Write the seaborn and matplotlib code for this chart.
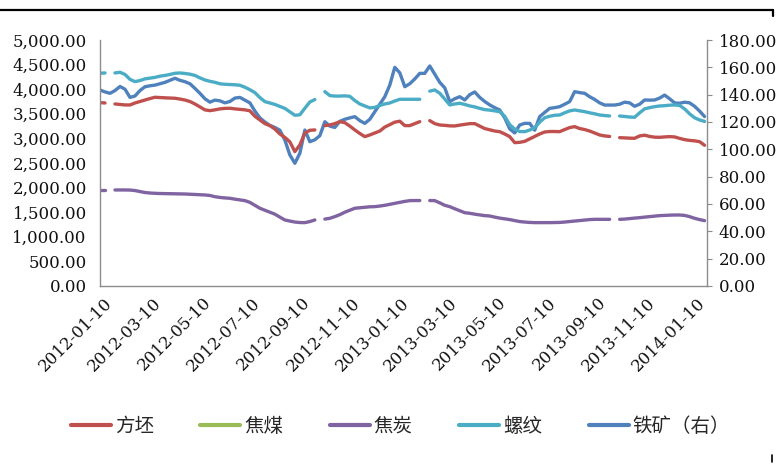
import numpy as np
import pandas as pd
import matplotlib
matplotlib.use("Agg")
import matplotlib.pyplot as plt
from matplotlib.lines import Line2D
from matplotlib.ticker import FuncFormatter, FixedLocator
import seaborn as sns

N = np.nan

# sampling dates (roughly weekly observations)
dates = pd.date_range("2012-01-05", "2014-01-20", periods=122)

# 方坯 (left axis)
billet = [3727, 3720, N, 3700, 3690, 3680, 3680, 3720, 3750, 3780,
          3810, 3836, 3830, 3825, 3820, 3816, 3800, 3780, 3750, 3700,
          3640, 3580, 3564, 3580, 3600, 3610, 3613, 3600, 3590, 3580,
          3560, 3450, 3375, 3300, 3260, 3190, 3090, 3020, 2930, 2731,
          2867, 3110, 3165, 3172, N, 3260, 3273, 3300, 3340, 3320,
          3250, 3172, 3100, 3036, 3070, 3110, 3150, 3230, 3280, 3330,
          3350, 3260, 3260, 3300, 3340, N, 3361, 3300, 3273, 3265,
          3255, 3253, 3270, 3285, 3300, 3300, 3250, 3200, 3175, 3150,
          3137, 3090, 3036, 2914, 2920, 2940, 2990, 3040, 3090, 3130,
          3140, 3140, 3137, 3180, 3220, 3239, 3200, 3180, 3150, 3110,
          3070, 3050, 3040, N, 3015, 3010, 3005, 3002, 3050, 3065,
          3040, 3025, 3022, 3030, 3036, 3030, 3000, 2975, 2960, 2950,
          2934, 2860]

# 焦煤 (left axis) - no visible data in the chart
coking_coal = []

# 焦炭 (left axis)
coke = [1952, 1952, N, 1952, 1952, 1952, 1950, 1940, 1920, 1900,
        1890, 1884, 1880, 1878, 1876, 1874, 1872, 1870, 1865, 1860,
        1855, 1850, 1840, 1815, 1800, 1790, 1783, 1765, 1750, 1735,
        1700, 1640, 1580, 1540, 1500, 1460, 1400, 1342, 1320, 1300,
        1290, 1288, 1310, 1342, N, 1360, 1376, 1410, 1450, 1500,
        1540, 1580, 1590, 1600, 1610, 1613, 1625, 1640, 1660, 1680,
        1700, 1720, 1735, 1737, 1737, N, 1737, 1735, 1690, 1640,
        1613, 1570, 1530, 1490, 1478, 1460, 1445, 1430, 1423, 1400,
        1380, 1365, 1350, 1330, 1310, 1300, 1292, 1288, 1288, 1288,
        1288, 1290, 1292, 1300, 1310, 1320, 1330, 1340, 1350, 1355,
        1355, 1355, 1355, N, 1355, 1360, 1370, 1380, 1389, 1400,
        1410, 1420, 1430, 1435, 1440, 1443, 1443, 1435, 1410, 1376,
        1350, 1328]

# 螺纹 (left axis)
rebar = [4324, 4330, N, 4330, 4344, 4300, 4200, 4154, 4175, 4210,
         4225, 4240, 4265, 4280, 4300, 4324, 4330, 4320, 4305, 4280,
         4230, 4188, 4160, 4140, 4110, 4100, 4095, 4090, 4080, 4040,
         3990, 3930, 3830, 3747, 3720, 3690, 3650, 3610, 3540, 3470,
         3480, 3613, 3740, 3790, N, 3951, 3870, 3860, 3860, 3865,
         3855, 3770, 3700, 3660, 3620, 3630, 3670, 3700, 3720, 3760,
         3795, 3795, 3795, 3795, 3795, N, 3960, 3985, 3917, 3800,
         3680, 3700, 3714, 3690, 3660, 3640, 3610, 3585, 3575, 3560,
         3544, 3450, 3280, 3190, 3140, 3137, 3170, 3220, 3330, 3420,
         3450, 3470, 3476, 3520, 3560, 3578, 3560, 3544, 3520, 3500,
         3476, 3465, 3456, N, 3456, 3445, 3435, 3429, 3520, 3600,
         3625, 3645, 3659, 3665, 3675, 3680, 3670, 3600, 3500, 3420,
         3375, 3345]

# 铁矿 (right axis)
iron_ore = [143.4, 142, 141, 143, 146, 144, 138, 139, 143, 145.8,
            146.5, 147, 148, 149, 150.5, 152, 150.5, 149.5, 148, 144.6,
            141, 137, 134.5, 136, 135.5, 134, 135, 137.5, 138, 136,
            134, 128, 123, 120, 117.5, 116, 114, 106.8, 95.9, 89.8,
            97.1, 114.1, 105.6, 107, 110, 120.2, 117, 116, 120.5, 122,
            123, 123.9, 121, 119, 122, 127.5, 133, 138.5, 147, 160,
            156, 145.8, 148, 151.5, 155.6, 155.6, 161, 155, 149, 145,
            134.9, 137, 138.5, 136.1, 140, 142, 138, 135, 132.5, 130.5,
            128.8, 123, 115, 112, 117.8, 119, 119, 114, 123.9, 127,
            130, 130.5, 131.2, 133, 134.9, 142.2, 141.5, 141, 138.5, 136.5,
            134, 132.4, 132.4, 132.4, 133, 134.5, 134, 131.5, 133, 136.1,
            136, 136.1, 137.5, 139.7, 137, 134, 133.7, 134.5, 134, 131.5,
            128, 124]

series_names = ["方坯", "焦煤", "焦炭", "螺纹", "铁矿（右）"]
series_colors = ["#C0504D", "#9BBB59", "#8064A2", "#4BACC6", "#4F81BD"]

tick_labels = ["2012-01-10", "2012-03-10", "2012-05-10", "2012-07-10",
               "2012-09-10", "2012-11-10", "2013-01-10", "2013-03-10",
               "2013-05-10", "2013-07-10", "2013-09-10", "2013-11-10",
               "2014-01-10"]

left_ticks = [0, 500, 1000, 1500, 2000, 2500, 3000, 3500, 4000, 4500, 5000]
right_ticks = [0, 20, 40, 60, 80, 100, 120, 140, 160, 180]

sns.set_theme(style="white")
plt.rcParams["font.family"] = ["DejaVu Serif"]

W, H = 782, 466
fig = plt.figure(figsize=(W / 100, H / 100), dpi=100)
ax = fig.add_axes([100 / W, 1 - 286 / H, 607 / W, 246 / H])
ax2 = ax.twinx()

LW = 2.4


def draw(axis, values, color):
    s = pd.Series(values, dtype=float)
    df = pd.DataFrame({"date": dates, "value": s.values,
                       "seg": s.isna().cumsum().values}).dropna()
    sns.lineplot(data=df, x="date", y="value", units="seg", estimator=None,
                 color=color, lw=LW, ax=axis, legend=False)


draw(ax, rebar, series_colors[3])
draw(ax, billet, series_colors[0])
draw(ax, coke, series_colors[2])
if len(coking_coal):
    draw(ax, coking_coal, series_colors[1])
draw(ax2, iron_ore, series_colors[4])

for a in (ax, ax2):
    a.set_xlabel("")
    a.set_ylabel("")
    a.set_facecolor("none")

ax.set_zorder(ax2.get_zorder() + 1)

ax.set_ylim(0, 5000)
ax2.set_ylim(0, 180)
ax.set_xlim(pd.Timestamp("2012-01-05"), pd.Timestamp("2014-01-23"))

tick_dates = pd.to_datetime(tick_labels)
ax.xaxis.set_major_locator(FixedLocator(matplotlib.dates.date2num(tick_dates)))
ax.set_xticklabels(tick_labels)

ax.yaxis.set_major_locator(FixedLocator(left_ticks))
ax.yaxis.set_major_formatter(FuncFormatter(lambda v, p: f"{v:,.2f}"))
ax2.yaxis.set_major_locator(FixedLocator(right_ticks))
ax2.yaxis.set_major_formatter(FuncFormatter(lambda v, p: f"{v:,.2f}"))

spine_col = "#8C8C8C"
for a in (ax, ax2):
    a.spines["top"].set_visible(False)
ax.spines["right"].set_visible(False)
ax2.spines["left"].set_visible(False)
ax2.spines["bottom"].set_visible(False)
ax.spines["left"].set_color(spine_col)
ax.spines["bottom"].set_color(spine_col)
ax2.spines["right"].set_color(spine_col)
for sp in ("left", "bottom"):
    ax.spines[sp].set_linewidth(1.0)
ax2.spines["right"].set_linewidth(1.0)

ax.tick_params(axis="y", left=False, length=0, pad=9.5, labelsize=12,
               labelcolor="#111111")
ax.tick_params(axis="x", bottom=False, length=0, pad=6, labelsize=12,
               labelcolor="#111111")
ax2.tick_params(axis="y", right=True, length=3.5, width=0.8, color=spine_col,
                direction="out", pad=5, labelsize=12, labelcolor="#111111")
for lab in ax.get_xticklabels():
    lab.set_rotation(45)
    lab.set_ha("right")
    lab.set_rotation_mode("anchor")

# legend
handles = [Line2D([0], [0], color=c, lw=3) for c in series_colors]
fig.legend(handles, series_names, loc="center left",
           bbox_to_anchor=(71 / W, 1 - 426 / H), ncol=5, frameon=False,
           prop={"family": ["Noto Sans CJK SC", "DejaVu Sans"], "size": 14},
           handlelength=2.05, handletextpad=0.2, columnspacing=2.4,
           borderpad=0, borderaxespad=0)

# chart frame fragments
fig.add_artist(Line2D([0, 773 / W], [1 - 10 / H, 1 - 10 / H], color="black",
                      lw=1.6, transform=fig.transFigure))
fig.add_artist(Line2D([773 / W, 773 / W], [1 - 10 / H, 1 - 16 / H],
                      color="black", lw=1.6, transform=fig.transFigure))
fig.add_artist(Line2D([772 / W, 772 / W], [1 - 455 / H, 1 - 462 / H],
                      color="black", lw=1.2, transform=fig.transFigure))

fig.savefig("out.png", dpi=100, facecolor="white")
